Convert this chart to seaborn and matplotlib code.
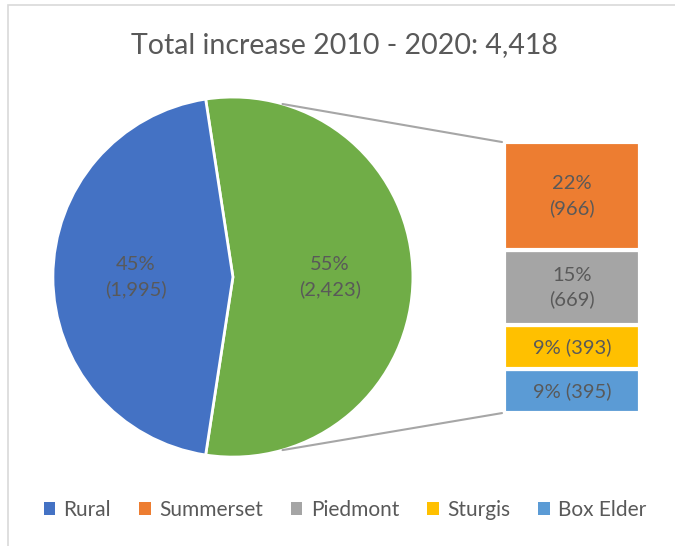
"""Pie-of-bar chart: population increase 2010 - 2020, rural vs. towns."""

import numpy as np
import seaborn as sns
import matplotlib
matplotlib.use("Agg")
import matplotlib.pyplot as plt
from matplotlib.patches import Patch, Rectangle

# Data
pie_labels = ["Towns", "Rural"]
pie_values = [2423, 1995]
bar_labels = ["Box Elder", "Sturgis", "Piedmont", "Summerset"]   # bottom -> top
bar_values = [395, 393, 669, 966]
legend_order = ["Rural", "Summerset", "Piedmont", "Sturgis", "Box Elder"]
total = sum(pie_values)

COLORS = {
    "Rural": "#4472C4",
    "Towns": "#70AD47",
    "Summerset": "#ED7D31",
    "Piedmont": "#A5A5A5",
    "Sturgis": "#FFC000",
    "Box Elder": "#5B9BD5",
}
TEXT = "#595959"
LABEL_SIZE = 14.5

sns.set_theme(style="white")
plt.rcParams["font.family"] = ["Lato", "DejaVu Sans"]

fig = plt.figure(figsize=(6.75, 5.46), dpi=100)
ax = fig.add_axes([0, 0, 1, 1])
ax.axis("off")


def fmt_pct(v):
    return f"{v / total * 100:.0f}%"


# Pie: green part centred on the right-hand side
green_share = pie_values[0] / total * 360
wedges, texts = ax.pie(
    pie_values,
    colors=[COLORS[l] for l in pie_labels],
    startangle=-green_share / 2,
    radius=1.0,
    center=(0, 0),
    wedgeprops=dict(edgecolor="white", linewidth=2),
    labels=[f"{fmt_pct(v)}\n({v:,})" for v in pie_values],
    labeldistance=0.54,
    textprops=dict(color=TEXT, fontsize=LABEL_SIZE, ha="center", va="center",
                   linespacing=1.45),
)
ax.set_xlim(-1.294, 2.456)
ax.set_ylim(-1.494, 1.539)
ax.set_aspect("auto")

# Stacked bar for the towns
bar_x = 1.883
bar_w = 0.756
bar_bottom = -0.7556
scale = 1.5056 / sum(bar_values)
bottom = bar_bottom
for lab, val in zip(bar_labels, bar_values):
    h = val * scale
    ax.bar(bar_x, h, width=bar_w, bottom=bottom, color=COLORS[lab],
           edgecolor="white", linewidth=3)
    txt = f"{fmt_pct(val)} ({val})" if val < 500 else f"{fmt_pct(val)}\n({val})"
    ax.text(bar_x, bottom + h / 2, txt, ha="center", va="center",
            color=TEXT, fontsize=LABEL_SIZE, linespacing=1.45)
    bottom += h
bar_top = bottom

# Connector lines
ang = np.deg2rad(74)
left = bar_x - bar_w / 2
ax.plot([np.cos(ang), left - 0.01], [np.sin(ang), bar_top], color="#A6A6A6", lw=1.5)
ax.plot([np.cos(ang), left - 0.01], [-np.sin(ang), bar_bottom], color="#A6A6A6", lw=1.5)

# Title
fig.text(0.511, 0.918, "Total increase 2010 - 2020: 4,418", ha="center",
         va="center", fontsize=20.5, color=TEXT)

# Legend
handles = [Patch(facecolor=COLORS[l], edgecolor="none") for l in legend_order]
fig.legend(handles, legend_order, loc="center", bbox_to_anchor=(0.511, 0.066),
           ncol=5, frameon=False, fontsize=15, handlelength=0.55,
           handleheight=0.55, handletextpad=0.4, columnspacing=1.35,
           labelcolor=TEXT)

# Chart border (left and top visible)
fig.patches.append(Rectangle((8 / 675, -0.1), 1.2, 1.1 - 5 / 546,
                             transform=fig.transFigure, fill=False,
                             edgecolor="#D9D9D9", linewidth=1.2))

fig.savefig("out.png", dpi=100)
